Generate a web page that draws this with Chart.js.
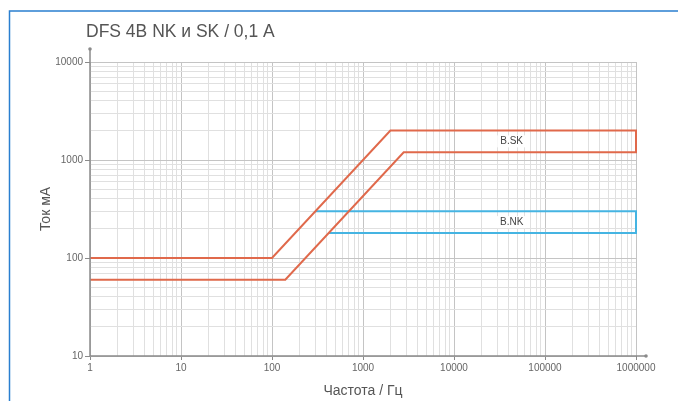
<!DOCTYPE html>
<html>
<head>
<meta charset="utf-8">
<script src="https://cdn.jsdelivr.net/npm/chart.js@4.4.1/dist/chart.umd.min.js"></script>
<style>
  html, body { margin: 0; padding: 0; background: #fff; }
  canvas { display: block; }
</style>
</head>
<body>
<canvas id="dfsChart" width="678" height="401"></canvas>
<script>
// данные графика (частота в Гц, ток в мА)
const freqSK = [1, 100, 2000, 1000000, 1000000, 2800, 140, 1];
const currentSK = [100, 100, 2000, 2000, 1200, 1200, 60, 60];
const freqNK = [300, 1000000, 1000000, 420];
const currentNK = [300, 300, 180, 180];

const xTicks = [1, 10, 100, 1000, 10000, 100000, 1000000];
const yTicks = [10, 100, 1000, 10000];

// подписи зон
const zoneNames = ["B.SK", "B.NK"];
const zoneFreq = [43000, 43000];

const colorSK = "#e0694b";
const colorNK = "#45b4e2";
const FONT = "'Liberation Sans', Arial, sans-serif";

function toPoints(xs, ys) {
    return xs.map((x, i) => ({ x: x, y: ys[i] }));
}

// сетка 1..9 в каждой декаде
function logTicks(decades) {
    const out = [];
    for (let i = 0; i < decades.length - 1; i++) {
        for (let m = 1; m < 10; m++) out.push({ value: decades[i] * m });
    }
    out.push({ value: decades[decades.length - 1] });
    return out;
}

const isDecade = (v) => Math.abs(Math.log10(v) - Math.round(Math.log10(v))) < 1e-9;

const framePlugin = {
    id: "frame",
    beforeDraw(chart) {
        const c = chart.ctx;
        c.save();
        c.fillStyle = "#fff";
        c.fillRect(0, 0, chart.width, chart.height);
        c.strokeStyle = "#2a7fd0";
        c.lineWidth = 1.5;
        c.beginPath();
        c.moveTo(9.5, chart.height);
        c.lineTo(9.5, 11);
        c.lineTo(chart.width, 11);
        c.stroke();
        // заголовок
        c.fillStyle = "#555";
        c.font = "17.5px " + FONT;
        c.textAlign = "left";
        c.textBaseline = "middle";
        c.fillText("DFS 4B NK и SK / 0,1 A", 86, 32);
        c.restore();
    },
    afterDatasetsDraw(chart) {
        const c = chart.ctx;
        const a = chart.chartArea;
        const x = chart.scales.x, y = chart.scales.y;
        c.save();
        // оси со стрелками
        c.strokeStyle = "#8a8a8a";
        c.fillStyle = "#8a8a8a";
        c.lineWidth = 1.5;
        c.beginPath();
        c.moveTo(a.left, a.top - 13);
        c.lineTo(a.left, a.bottom);
        c.lineTo(a.right + 10, a.bottom);
        c.stroke();
        c.beginPath();
        c.arc(a.left, a.top - 13, 1.8, 0, Math.PI * 2);
        c.arc(a.right + 10, a.bottom, 1.8, 0, Math.PI * 2);
        c.fill();
        // подписи зон
        const tops = [2000, 300], bottoms = [1200, 180];
        c.font = "10px " + FONT;
        c.textAlign = "center";
        c.textBaseline = "middle";
        zoneNames.forEach((name, i) => {
            const px = x.getPixelForValue(zoneFreq[i]);
            const py = (y.getPixelForValue(tops[i]) + y.getPixelForValue(bottoms[i])) / 2;
            const w = c.measureText(name).width + 6;
            c.fillStyle = "#fff";
            c.fillRect(px - w / 2, py - 6, w, 12);
            c.fillStyle = "#444";
            c.fillText(name, px, py);
        });
        c.restore();
    }
};

new Chart(document.getElementById("dfsChart"), {
    type: "line",
    data: {
        datasets: [
            {
                label: "SK",
                data: toPoints(freqSK, currentSK),
                borderColor: colorSK,
                borderWidth: 2,
                pointRadius: 0,
                tension: 0,
                fill: false,
                clip: false,
            },
            {
                label: "NK",
                data: toPoints(freqNK, currentNK),
                borderColor: colorNK,
                borderWidth: 2,
                pointRadius: 0,
                tension: 0,
                fill: false,
                clip: false,
            },
        ],
    },
    options: {
        responsive: false,
        animation: false,
        layout: { padding: { top: 62, right: 42, left: 0, bottom: 0 } },
        plugins: {
            legend: { display: false },
            tooltip: { enabled: false },
        },
        scales: {
            x: {
                type: "logarithmic",
                min: 1,
                max: 1000000,
                afterBuildTicks: (s) => { s.ticks = logTicks(xTicks); },
                afterFit: (s) => { s.height = 45; },
                border: { display: false },
                grid: {
                    color: (ctx) => isDecade(ctx.tick.value) ? "#c4c4c4" : "#e0e0e0",
                    tickColor: (ctx) => isDecade(ctx.tick.value) ? "#8a8a8a" : "rgba(0,0,0,0)",
                    tickLength: 4,
                    lineWidth: 1,
                },
                ticks: {
                    autoSkip: false,
                    maxRotation: 0,
                    padding: 2,
                    color: "#666",
                    font: { family: FONT, size: 10 },
                    callback: (v) => isDecade(v) ? String(v) : "",
                },
                title: {
                    display: true,
                    text: "Частота / Гц",
                    color: "#555",
                    font: { family: FONT, size: 14 },
                    padding: { top: 0, bottom: 1 },
                },
            },
            y: {
                type: "logarithmic",
                min: 10,
                max: 10000,
                afterBuildTicks: (s) => { s.ticks = logTicks(yTicks); },
                afterFit: (s) => { s.width = 90; },
                border: { display: false },
                grid: {
                    color: (ctx) => isDecade(ctx.tick.value) ? "#c4c4c4" : "#e0e0e0",
                    tickColor: (ctx) => isDecade(ctx.tick.value) ? "#8a8a8a" : "rgba(0,0,0,0)",
                    tickLength: 5,
                    lineWidth: 1,
                },
                ticks: {
                    autoSkip: false,
                    padding: 2,
                    color: "#666",
                    font: { family: FONT, size: 10 },
                    callback: (v) => isDecade(v) ? String(v) : "",
                },
                title: {
                    display: true,
                    text: "Ток мА",
                    color: "#555",
                    font: { family: FONT, size: 14 },
                    padding: { top: 38, bottom: 0 },
                },
            },
        },
    },
    plugins: [framePlugin],
});
</script>
</body>
</html>
